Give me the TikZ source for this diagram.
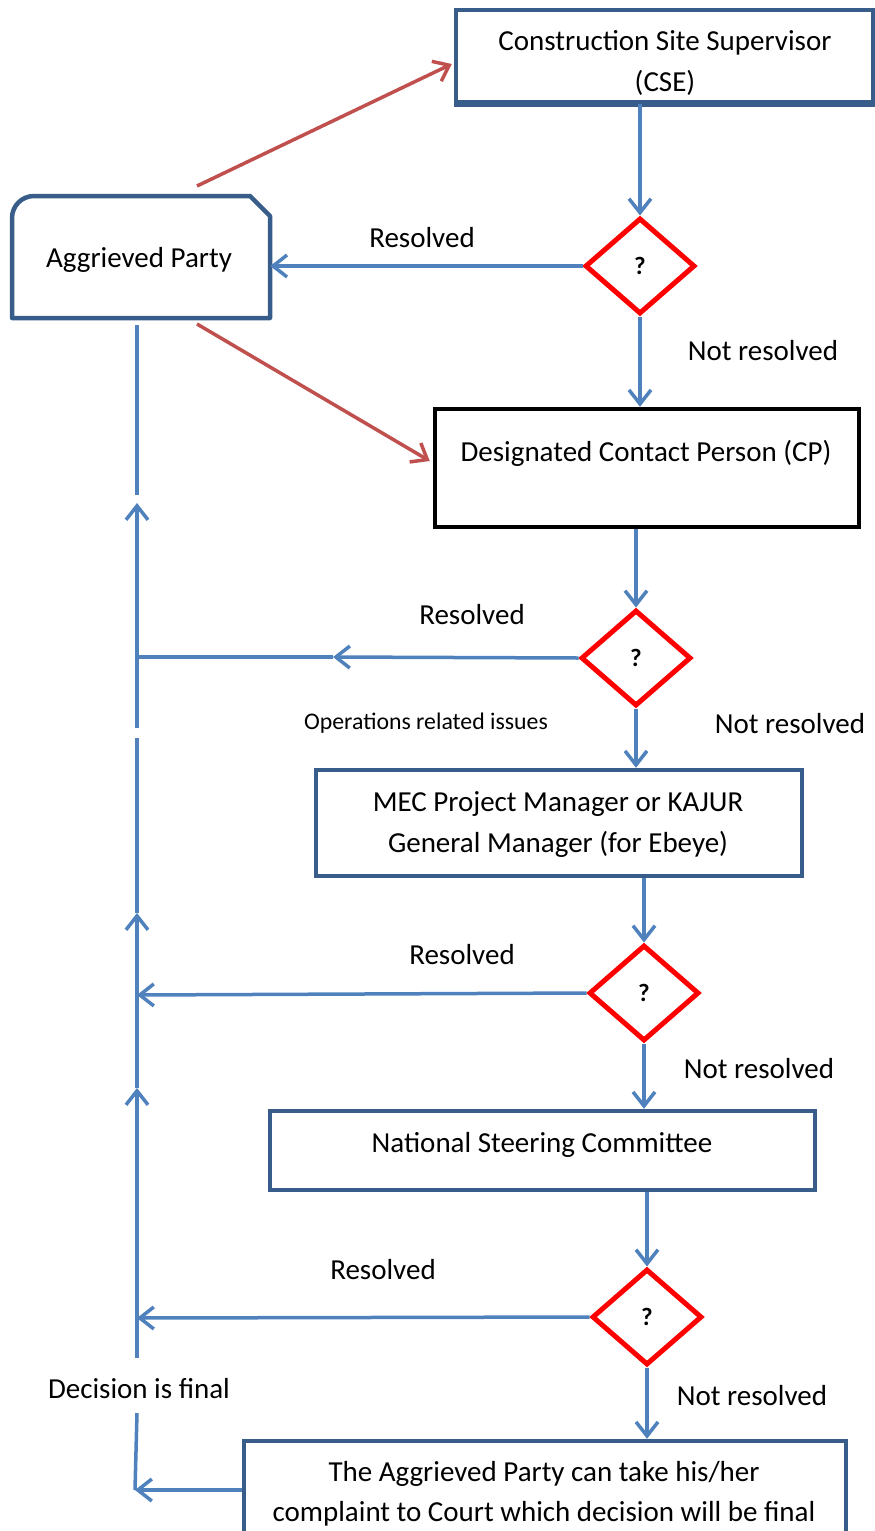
\documentclass[tikz,border=0pt]{standalone}
\usepackage{fontspec}
\setmainfont{Carlito}
\usetikzlibrary{arrows.meta,shapes.geometric,calc}
\definecolor{boxblue}{HTML}{385D8A}
\definecolor{lineblue}{HTML}{4F81BD}
\definecolor{redarrow}{HTML}{C0504D}
\begin{document}
\begin{tikzpicture}[x=1pt,y=-1pt,
  box/.style={draw=boxblue,line width=4.5pt,inner sep=0pt,fill=white},
  cpbox/.style={draw=black,line width=4.5pt,inner sep=0pt,fill=white},
  dia/.style={draw=red,diamond,line width=5pt,minimum width=110pt,minimum height=96pt,inner sep=0pt,fill=white,font=\fontsize{25}{28}\selectfont\bfseries},
  txt/.style={inner sep=0pt,text height=22pt,text depth=4pt,font=\fontsize{29}{39}\selectfont},
  smalltxt/.style={inner sep=0pt,text height=18pt,text depth=3pt,font=\fontsize{23.8}{30}\selectfont},
  conn/.style={draw=lineblue,line width=3.5pt,-{Straight Barb[length=14pt,width=22pt]}},
  plain/.style={draw=lineblue,line width=3.5pt},
  redconn/.style={draw=redarrow,line width=3.5pt,-{Straight Barb[length=14pt,width=22pt]}}]
\useasboundingbox (0,0) rectangle (875,1531);
\clip (0,0) rectangle (875,1531);

% boxes
\node[box,minimum width=417pt,minimum height=92pt] (cse) at (664.5,56) {};
\node[txt] (cseA) at (665,41) {Construction Site Supervisor};
\node[txt] (cseB) at (665,82) {(CSE)};
\draw[draw=boxblue,line width=4.5pt] (cse.south west) -- (cse.south east);

\node[inner sep=0pt,minimum width=258pt,minimum height=122pt] (ap) at (141,257) {};
\draw[draw=boxblue,line width=4.5pt,line join=round]
  (12,318) -- (12,240) {[rounded corners=22pt] -- (12,196) -- (60,196)} -- (250,196) -- (270,216) -- (270,318) -- cycle;
\node[txt] (apt) at (139,258) {Aggrieved Party};

\node[cpbox,minimum width=424pt,minimum height=118pt] (cp) at (647,468) {};
\node[txt] (cpt) at (646,452) {Designated Contact Person (CP)};

\node[box,minimum width=486pt,minimum height=106pt] (mec) at (559,823) {};
\node[txt] (mecA) at (558,802) {MEC Project Manager or KAJUR};
\node[txt] (mecB) at (558,843) {General Manager (for Ebeye)};

\node[box,minimum width=545pt,minimum height=79pt] (nsc) at (542.5,1150.5) {};
\node[txt] (nsct) at (542,1143) {National Steering Committee};

\node[box,minimum width=602pt,minimum height=158pt] (court) at (545,1520) {};
\node[txt] (courtA) at (544,1472) {The Aggrieved Party can take his/her};
\node[txt] (courtB) at (544,1512) {complaint to Court which decision will be final};

% diamonds
\node[dia] (d1) at (640,266) {?};
\node[dia] (d2) at (636,658) {?};
\node[dia] (d3) at (644,993) {?};
\node[dia] (d4) at (647,1317) {?};

% vertical flow
\draw[conn] (cse.south -| d1) -- (d1.north);
\draw[conn] (d1.south) -- (d1.south |- cp.north);
\draw[conn] (cp.south -| d2) -- (d2.north);
\draw[conn] (d2.south) -- (d2.south |- mec.north);
\draw[conn] (mec.south -| d3) -- (d3.north);
\draw[conn] (d3.south) -- (d3.south |- nsc.north);
\draw[conn] (nsc.south -| d4) -- (d4.north);
\draw[conn] (d4.south) -- (d4.south |- court.north);

% red arrows
\coordinate (r1) at (197,186);
\coordinate (r2) at (197,324);
\draw[redconn] (r1) -- ($(cse.west)+(-2,8)$);
\draw[redconn] (r2) -- ($(cp.west)+(-3,-7)$);

% left return line
\coordinate (v0) at (137,325);
\coordinate (v1) at (137,495);
\coordinate (v2) at (137,503);
\coordinate (v3) at (137,728);
\coordinate (v4) at (137,738);
\coordinate (v5) at (137,913);
\coordinate (v6) at (137,1088);
\coordinate (v7) at (137,1358);
\coordinate (v8) at (137,1413);
\coordinate (cl) at (135,1490);
\coordinate (h2) at (137,657);
\coordinate (m2) at (333,657);
\coordinate (h3) at (137,995);
\coordinate (h4) at (137,1318);

\draw[plain] (v0) -- (v1);
\draw[conn] (v3) -- (v2);
\draw[plain] (v5) -- (v4);
\draw[conn] (v6) -- (v5);
\draw[conn] (v7) -- (v6);
\draw[plain] (v8) -- (cl);

\draw[conn] (d1.west) -- (d1.west -| ap.east);
\draw[conn] (d2.west) -- (m2);
\draw[plain] (m2) -- (h2);
\draw[conn] (d3.west) -- (h3);
\draw[conn] (d4.west) -- (h4);
\draw[conn] (court.west |- cl) -- (cl);

% labels
\node[txt] (res1) at (422,238) {Resolved};
\node[txt] (res2) at (472,615) {Resolved};
\node[txt] (res3) at (462,955) {Resolved};
\node[txt] (res4) at (383,1270) {Resolved};
\node[txt] (nr1) at (763,351) {Not resolved};
\node[txt] (nr2) at (790,724) {Not resolved};
\node[txt] (nr3) at (759,1069) {Not resolved};
\node[txt] (nr4) at (752,1396) {Not resolved};
\node[smalltxt] (ops) at (426,722) {Operations related issues};
\node[txt] (dec) at (139,1389) {Decision is final};
\end{tikzpicture}
\end{document}
